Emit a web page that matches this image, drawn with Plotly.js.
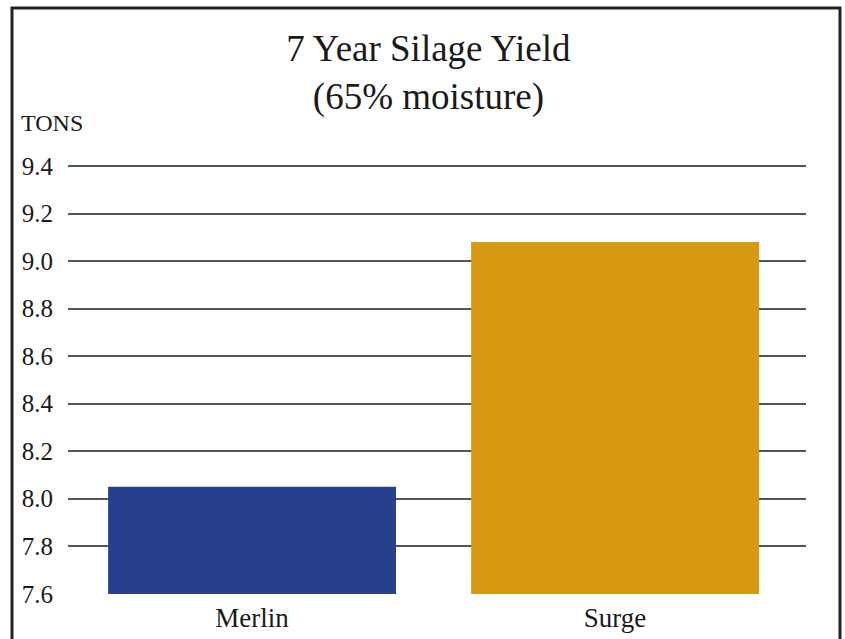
<!DOCTYPE html>
<html>
<head>
<meta charset="utf-8">
<script src="https://cdn.plot.ly/plotly-3.0.1.min.js"></script>
<style>
html,body{margin:0;padding:0;background:#fff;}
#chart{width:845px;height:639px;}
</style>
</head>
<body>
<div id="chart"></div>
<script>
var categories = ["Merlin", "Surge"];
var yieldTons = [8.05, 9.08];
var barColors = ["#26408c", "#d89912"];
var yTickVals = [7.6, 7.8, 8.0, 8.2, 8.4, 8.6, 8.8, 9.0, 9.2, 9.4];
var yTickText = ["7.6", "7.8", "8.0", "8.2", "8.4", "8.6", "8.8", "9.0", "9.2", "9.4"];
var titleText = "7 Year Silage Yield<br>(65% moisture)";
var unitLabel = "TONS";

var serif = "Liberation Serif, Times New Roman, serif";

var trace = {
  type: "bar",
  x: [0, 1],
  y: yieldTons,
  width: 0.793,
  marker: {color: barColors, line: {width: 0}},
  hoverinfo: "x+y"
};

var plotTop = 162, plotBottom = 594, plotLeft = 68, plotRight = 806;
var ph = plotBottom - plotTop, pw = plotRight - plotLeft;

var layout = {
  width: 845, height: 639,
  margin: {l: plotLeft, r: 845 - plotRight, t: plotTop, b: 639 - plotBottom, pad: 0},
  paper_bgcolor: "#fff", plot_bgcolor: "rgba(0,0,0,0)",
  showlegend: false,
  title: {
    text: titleText,
    font: {family: serif, size: 37, color: "#1a1a1a"},
    x: 0.507, xref: "container", xanchor: "center",
    y: 0.905, yref: "container", yanchor: "top"
  },
  xaxis: {
    range: [-0.507, 1.526],
    tickvals: [0, 1], ticktext: categories,
    showgrid: false, zeroline: false, showline: false,
    ticks: "", ticklabelstandoff: 5,
    tickfont: {family: serif, size: 27, color: "#1a1a1a"},
    fixedrange: true
  },
  yaxis: {
    range: [7.599, 9.4168],
    tickvals: yTickVals, ticktext: yTickText,
    showgrid: true, gridcolor: "#555", gridwidth: 1.5,
    zeroline: false, showline: false,
    ticks: "", ticklabelstandoff: 14,
    tickfont: {family: serif, size: 25, color: "#1a1a1a"},
    fixedrange: true
  },
  annotations: [{
    text: unitLabel, xref: "paper", yref: "paper",
    x: (19 - plotLeft) / pw, y: (plotBottom - 123) / ph,
    xanchor: "left", yanchor: "middle", showarrow: false,
    font: {family: serif, size: 24, color: "#1a1a1a"}
  }],
  shapes: [{
    type: "path", xref: "paper", yref: "paper",
    path: "M " + ((12 - plotLeft) / pw) + " -0.3 L " + ((12 - plotLeft) / pw) + " " + ((plotBottom - 8) / ph) +
          " L " + ((840 - plotLeft) / pw) + " " + ((plotBottom - 8) / ph) + " L " + ((840 - plotLeft) / pw) + " -0.3",
    line: {color: "#222", width: 3}
  }]
};

Plotly.newPlot("chart", [trace], layout, {displayModeBar: false});
</script>
</body>
</html>
